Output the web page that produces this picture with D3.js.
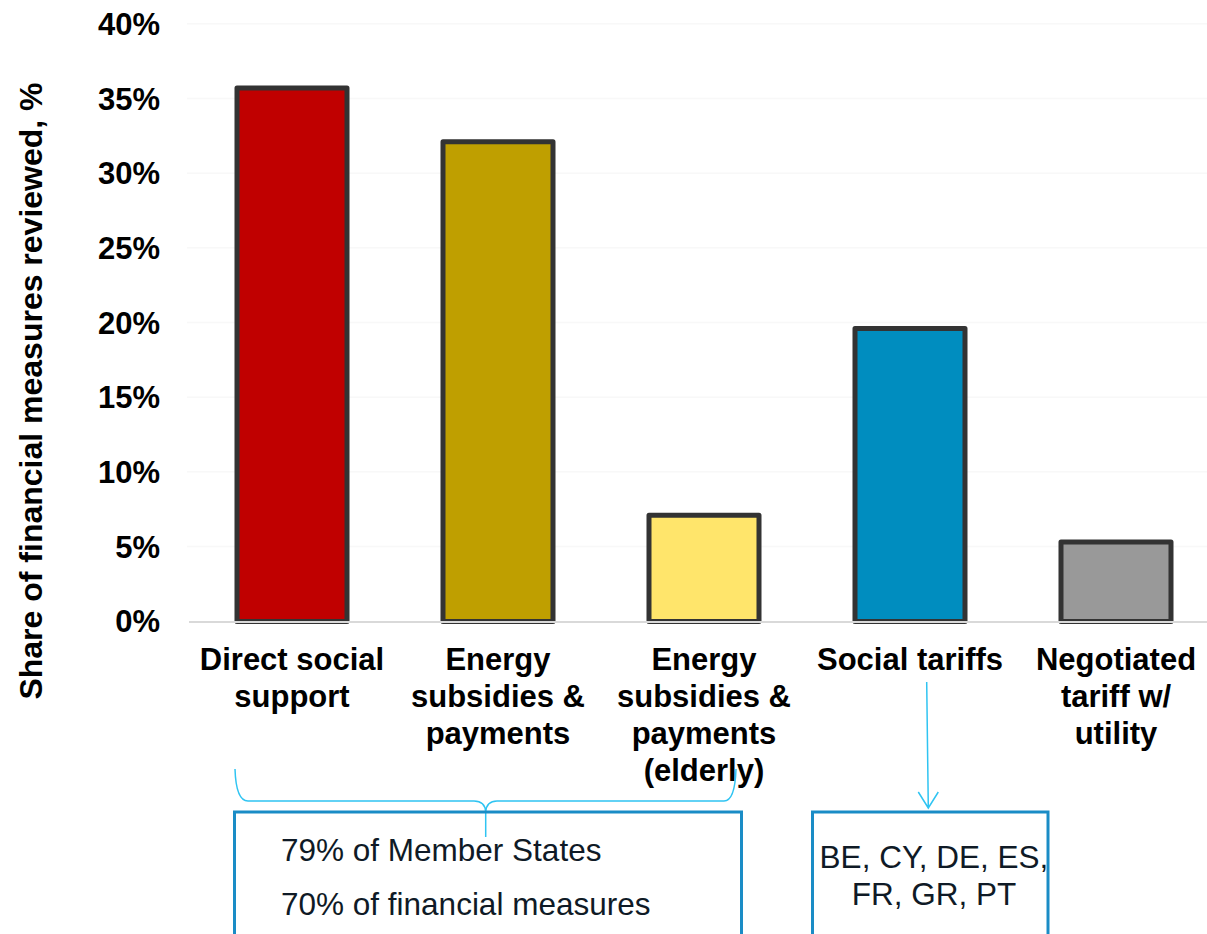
<!DOCTYPE html>
<html lang="en">
<head>
<meta charset="utf-8">
<title>Financial measures</title>
<script src="https://cdn.jsdelivr.net/npm/d3@7"></script>
<style>
  body { margin: 0; padding: 0; background: #fff; overflow: hidden; }
  text { font-family: Arial, "Liberation Sans", sans-serif; }
  .tick-label { font-size: 31px; font-weight: bold; fill: #000; }
  .cat-label { font-size: 31px; font-weight: bold; fill: #000; }
  .y-title { font-size: 32px; font-weight: bold; fill: #000; }
  .note { font-size: 31.5px; fill: #0f1a26; }
</style>
</head>
<body>
<script>
// chart data
var categories = ["Direct social support", "Energy subsidies & payments",
  "Energy subsidies & payments (elderly)", "Social tariffs", "Negotiated tariff w/ utility"];
var catLines = [
  ["Direct social", "support"],
  ["Energy", "subsidies &", "payments"],
  ["Energy", "subsidies &", "payments", "(elderly)"],
  ["Social tariffs"],
  ["Negotiated", "tariff w/", "utility"]
];
var shares = [35.7, 32.1, 7.1, 19.6, 5.3];
var barColors = ["#c00000", "#bf9f00", "#ffe56b", "#008dbf", "#999999"];
var yTicks = [0, 5, 10, 15, 20, 25, 30, 35, 40];
var yTitle = "Share of financial measures reviewed, %";
var noteLeft = ["79% of Member States", "70% of financial measures"];
var noteRight = ["BE, CY, DE, ES,", "FR, GR, PT"];

var W = 1207, H = 934;
var svg = d3.select("body").append("svg")
  .attr("width", W).attr("height", H);

var x = d3.scaleBand().domain(categories)
  .range([189, 1219]).paddingInner(0.466).paddingOuter(0.233);
var y = d3.scaleLinear().domain([0, 40]).range([621.2, 23.8]);

// faint grid
svg.selectAll(".grid").data(yTicks.slice(1)).enter().append("line")
  .attr("x1", 187).attr("x2", W)
  .attr("y1", function(d){ return y(d); }).attr("y2", function(d){ return y(d); })
  .attr("stroke", "#f8f8f8").attr("stroke-width", 1.5);

// y tick labels
svg.selectAll(".tick-label").data(yTicks).enter().append("text")
  .attr("class", "tick-label")
  .attr("x", 160).attr("y", function(d){ return y(d); })
  .attr("dy", "0.36em").attr("text-anchor", "end")
  .text(function(d){ return d + "%"; });

svg.append("text").attr("class", "y-title")
  .attr("transform", "translate(42,391) rotate(-90)")
  .attr("text-anchor", "middle")
  .text(yTitle);

// bars
svg.selectAll(".bar").data(shares).enter().append("rect")
  .attr("class", "bar")
  .attr("x", function(d, i){ return x(categories[i]); })
  .attr("width", x.bandwidth())
  .attr("y", function(d){ return y(d); })
  .attr("height", function(d){ return y(0) + 0.3 - y(d); })
  .attr("fill", function(d, i){ return barColors[i]; })
  .attr("stroke", "#333333").attr("stroke-width", 5)
  .attr("stroke-linejoin", "round");

// baseline
svg.append("line")
  .attr("x1", 189).attr("x2", W)
  .attr("y1", 622).attr("y2", 622)
  .attr("stroke", "#d9d9d9").attr("stroke-width", 2);

// category labels
categories.forEach(function(c, i){
  var t = svg.append("text").attr("class", "cat-label")
    .attr("text-anchor", "middle")
    .attr("x", x(c) + x.bandwidth() / 2).attr("y", 670);
  catLines[i].forEach(function(line, j){
    t.append("tspan").attr("x", x(c) + x.bandwidth() / 2)
      .attr("y", 670 + j * 37).text(line);
  });
});

// brace over the first three categories
svg.append("path")
  .attr("d", "M235,769 Q236,801 248,801 L474,801 Q485,801 485.7,812 L485.7,837" +
             " M485.7,812 Q486.5,801 497,801 L724,801 Q735,801 736,769")
  .attr("fill", "none").attr("stroke", "#2fc4f2").attr("stroke-width", 1.5);

// arrow to the social tariffs note
svg.append("path")
  .attr("d", "M926.7,682 L928.3,808 M918.3,792 L928.3,808 L938.3,792")
  .attr("fill", "none").attr("stroke", "#2fc4f2").attr("stroke-width", 1.5);

// note boxes (cut off at the bottom)
svg.append("rect").attr("x", 234.5).attr("y", 812).attr("width", 507).attr("height", 140)
  .attr("fill", "none").attr("stroke", "#1a8cc6").attr("stroke-width", 3);
svg.append("rect").attr("x", 812.5).attr("y", 812).attr("width", 235.5).attr("height", 140)
  .attr("fill", "none").attr("stroke", "#1a8cc6").attr("stroke-width", 3);

svg.selectAll(".note-left").data(noteLeft).enter().append("text")
  .attr("class", "note").attr("x", 281)
  .attr("y", function(d, i){ return 861 + i * 54; })
  .text(function(d){ return d; });

svg.selectAll(".note-right").data(noteRight).enter().append("text")
  .attr("class", "note").attr("text-anchor", "middle").attr("x", 934)
  .attr("y", function(d, i){ return 868 + i * 37; })
  .text(function(d){ return d; });
</script>
</body>
</html>
